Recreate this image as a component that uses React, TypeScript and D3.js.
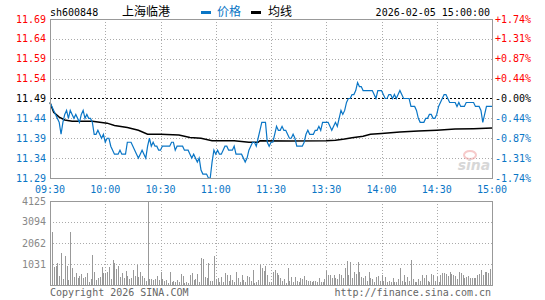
import { useMemo } from 'react';
import * as d3 from 'd3';

const W = 545;
const H = 300;

const stockCode = 'sh600848';
const stockName = '上海临港';
const legendPrice = '价格';
const legendAvg = '均线';
const stamp = '2026-02-05 15:00:00';
const prevClose = 11.49;

const priceTicks = [11.69, 11.64, 11.59, 11.54, 11.49, 11.44, 11.39, 11.34, 11.29];
const pctTicks = ['+1.74%', '+1.31%', '+0.87%', '+0.44%', '-0.00%', '-0.44%', '-0.87%', '-1.31%', '-1.74%'];
const timeLabels = ['09:30', '10:00', '10:30', '11:00', '11:30', '13:30', '14:00', '14:30', '15:00'];
const timeIdx = [0, 30, 60, 90, 120, 150, 180, 210, 240];
const volTicks = [4125, 3094, 2062, 1031];

// minute prices 09:30-11:30 then 13:01-15:00
const priceAM = [
  11.48, 11.47, 11.46, 11.45, 11.44, 11.43, 11.40, 11.43, 11.45, 11.46,
  11.44, 11.46, 11.45, 11.44, 11.45, 11.44, 11.43, 11.45, 11.46, 11.44,
  11.45, 11.44, 11.44, 11.43, 11.40, 11.40, 11.41, 11.40, 11.39, 11.40,
  11.38, 11.39, 11.39, 11.37, 11.36, 11.35, 11.35, 11.35, 11.36, 11.35,
  11.35, 11.35, 11.38, 11.38, 11.38, 11.37, 11.36, 11.35, 11.34, 11.35,
  11.36, 11.35, 11.34, 11.37, 11.39, 11.37, 11.38, 11.37, 11.37, 11.36,
  11.36, 11.37, 11.37, 11.37, 11.37, 11.37, 11.38, 11.38, 11.36, 11.37,
  11.37, 11.37, 11.37, 11.36, 11.36, 11.36, 11.35, 11.34, 11.35, 11.34,
  11.33, 11.34, 11.31, 11.30, 11.30, 11.30, 11.29, 11.29, 11.33, 11.36,
  11.35, 11.36, 11.35, 11.35, 11.36, 11.37, 11.37, 11.36, 11.36, 11.36,
  11.37, 11.35, 11.35, 11.35, 11.35, 11.34, 11.33, 11.34, 11.36, 11.37,
  11.38, 11.38, 11.37, 11.39, 11.41, 11.43, 11.43, 11.43, 11.38, 11.37,
  11.38,
];
const pricePM = [
  11.38, 11.40, 11.42, 11.41, 11.41, 11.42, 11.41, 11.41, 11.40, 11.39,
  11.39, 11.40, 11.39, 11.37, 11.37, 11.37, 11.37, 11.38, 11.40, 11.41,
  11.40, 11.40, 11.40, 11.41, 11.41, 11.42, 11.41, 11.43, 11.43, 11.43,
  11.43, 11.42, 11.41, 11.42, 11.43, 11.42, 11.44, 11.46, 11.45, 11.46,
  11.48, 11.49, 11.49, 11.50, 11.50, 11.51, 11.53, 11.52, 11.52, 11.51,
  11.51, 11.51, 11.51, 11.51, 11.51, 11.50, 11.49, 11.51, 11.51, 11.51,
  11.50, 11.49, 11.49, 11.50, 11.50, 11.49, 11.50, 11.49, 11.50, 11.51,
  11.50, 11.49, 11.49, 11.49, 11.49, 11.47, 11.47, 11.47, 11.46, 11.44,
  11.43, 11.43, 11.43, 11.44, 11.44, 11.45, 11.45, 11.44, 11.44, 11.45,
  11.47, 11.48, 11.49, 11.50, 11.50, 11.49, 11.48, 11.48, 11.48, 11.48,
  11.47, 11.48, 11.47, 11.47, 11.47, 11.48, 11.48, 11.48, 11.48, 11.48,
  11.47, 11.47, 11.47, 11.46, 11.43, 11.45, 11.47, 11.47, 11.47, 11.47,
];

const avgIdx = [0, 2, 5, 8, 12, 23, 31, 35, 42, 48, 53, 60, 70, 76, 82, 88, 100, 108, 113, 114, 130, 150, 155, 160, 164, 170, 174, 180, 190, 200, 210, 220, 230, 240];
const avgVal = [11.48, 11.455, 11.443, 11.436, 11.433, 11.433, 11.428, 11.422, 11.417, 11.41, 11.40, 11.40, 11.398, 11.392, 11.39, 11.384, 11.384, 11.38, 11.38, 11.384, 11.383, 11.384, 11.385, 11.388, 11.391, 11.395, 11.40, 11.402, 11.406, 11.408, 11.41, 11.413, 11.414, 11.416];

const volAM = [
  490, 2620, 900, 950, 1080, 440, 1570, 300, 1420, 930,
  250, 2620, 830, 410, 590, 360, 425, 540, 360, 410,
  590, 130, 295, 1470, 620, 250, 360, 410, 880, 590,
  590, 650, 880, 295, 1230, 1060, 785, 915, 390, 590,
  330, 690, 460, 295, 330, 720, 440, 980, 410, 620,
  460, 330, 200, 4125, 295, 295, 260, 295, 425, 230,
  650, 295, 215, 260, 100, 650, 165, 215, 165, 260,
  130, 540, 440, 100, 130, 115, 490, 590, 250, 295,
  540, 165, 1340, 1280, 410, 330, 1080, 200, 200, 1420,
  295, 330, 130, 410, 130, 590, 490, 200, 490, 260,
  130, 620, 330, 130, 490, 250, 130, 440, 410, 200,
  740, 85, 130, 230, 980, 850, 690, 950, 490, 165,
  130,
];
const volPM = [
  655, 737, 573, 491, 327, 196, 295, 115, 818, 196,
  409, 164, 409, 196, 164, 327, 295, 442, 245, 196,
  196, 131, 196, 196, 131, 360, 131, 164, 295, 688,
  491, 491, 327, 491, 327, 295, 524, 491, 360, 818,
  1179, 491, 1113, 327, 655, 524, 1113, 655, 409, 360,
  458, 196, 622, 327, 295, 131, 409, 458, 196, 491,
  196, 409, 131, 196, 164, 327, 131, 164, 278, 818,
  196, 491, 131, 409, 196, 1228, 295, 164, 131, 295,
  196, 491, 360, 491, 196, 131, 524, 491, 196, 409,
  131, 491, 573, 573, 524, 458, 622, 524, 491, 458,
  295, 622, 573, 491, 360, 409, 458, 360, 327, 327,
  360, 491, 524, 737, 491, 655, 622, 573, 786, 524,
];

const RED = '#ff0000';
const BLUE = '#0a76c6';
const GRAY = '#999999';
const GRID = '#aaaaaa';
const MONO = '"DejaVu Sans Mono", "Liberation Mono", monospace';
const CJK = '"Noto Sans CJK SC", sans-serif';

export default function App() {
  const prices = useMemo(() => [...priceAM, ...pricePM], []);
  const vols = useMemo(() => [...volAM, ...volPM], []);

  const x = d3.scaleLinear().domain([0, 240]).range([50, 492]);
  const y = d3.scaleLinear().domain([11.29, 11.69]).range([178, 19]);
  const yv = d3.scaleLinear().domain([0, 4125]).range([285, 201]);

  const priceLine = d3.line<number>().x((_, i) => x(i)).y(d => y(d))(prices) || '';
  const avgLine = d3.line<number>().x((_, i) => x(avgIdx[i])).y(d => y(d))(avgVal) || '';

  const tickColor = (v: number) => (v > prevClose + 1e-6 ? RED : v < prevClose - 1e-6 ? BLUE : '#000');

  return (
    <svg width={W} height={H} style={{ position: 'absolute', left: 0, top: 0, background: '#fff' }}>
      {/* header */}
      <text x={50} y={16} fontFamily={MONO} fontSize={10} fill="#000">{stockCode}</text>
      <text x={122} y={16} fontFamily={CJK} fontSize={12} fill="#000">{stockName}</text>
      <rect x={201} y={11} width={10} height={3} fill={BLUE} />
      <text x={217} y={16} fontFamily={CJK} fontSize={12} fill={BLUE}>{legendPrice}</text>
      <rect x={251} y={11} width={10} height={3} fill="#000" />
      <text x={268} y={16} fontFamily={CJK} fontSize={12} fill="#000">{legendAvg}</text>
      <text x={490} y={16} fontFamily={MONO} fontSize={10} fill="#000" textAnchor="end">{stamp}</text>

      {/* price grid */}
      {priceTicks.slice(1, -1).map(v => (
        <line key={'h' + v} x1={50} x2={492} y1={Math.round(y(v)) + 0.5} y2={Math.round(y(v)) + 0.5}
          stroke={v === prevClose ? '#000' : GRID} strokeDasharray={v === prevClose ? '2 2' : '1 2'}
          shapeRendering="crispEdges" />
      ))}
      {timeIdx.slice(1, -1).map(i => (
        <g key={'v' + i}>
          <line x1={Math.round(x(i)) + 0.5} x2={Math.round(x(i)) + 0.5} y1={19} y2={178}
            stroke={GRID} strokeDasharray="1 2" shapeRendering="crispEdges" />
          <line x1={Math.round(x(i)) + 0.5} x2={Math.round(x(i)) + 0.5} y1={201} y2={285}
            stroke={GRID} strokeDasharray="1 2" shapeRendering="crispEdges" />
        </g>
      ))}
      {volTicks.slice(1).map(v => (
        <line key={'vh' + v} x1={50} x2={492} y1={Math.round(yv(v)) + 0.5} y2={Math.round(yv(v)) + 0.5}
          stroke={GRID} strokeDasharray="1 2" shapeRendering="crispEdges" />
      ))}

      {/* watermark */}
      <g opacity={0.55}>
        <ellipse cx={470} cy={155} rx={6} ry={4} fill="none" stroke="#f0a0a0" strokeWidth={2} />
        <text x={474} y={170} fontFamily="DejaVu Sans" fontStyle="italic" fontWeight="bold" fontSize={14}
          fill="#b8b8b8" textAnchor="middle">sina</text>
      </g>

      {/* volume bars */}
      {vols.map((v, i) => (
        <rect key={'b' + i} x={Math.round(x(i))} y={yv(v)} width={1} height={285 - yv(v)} fill={GRAY}
          shapeRendering="crispEdges" />
      ))}

      {/* lines */}
      <path d={avgLine} fill="none" stroke="#000" strokeWidth={1.5} />
      <path d={priceLine} fill="none" stroke={BLUE} strokeWidth={1.2} />

      {/* frames */}
      <rect x={50.5} y={19.5} width={442} height={159} fill="none" stroke={GRAY} shapeRendering="crispEdges" />
      <rect x={50.5} y={201.5} width={442} height={84} fill="none" stroke={GRAY} shapeRendering="crispEdges" />

      {/* axis labels */}
      {priceTicks.map((v, k) => (
        <g key={'pl' + k}>
          <text x={46} y={y(v)} dy="0.35em" fontFamily={MONO} fontSize={10} fill={tickColor(v)} textAnchor="end">
            {v.toFixed(2)}
          </text>
          <text x={495} y={y(v)} dy="0.35em" fontFamily={MONO} fontSize={10} fill={tickColor(v)}>
            {pctTicks[k]}
          </text>
        </g>
      ))}
      {timeLabels.map((t, k) => (
        <text key={'t' + t} x={x(timeIdx[k])} y={193} fontFamily={MONO} fontSize={10} fill={BLUE} textAnchor="middle">
          {t}
        </text>
      ))}
      {volTicks.map(v => (
        <text key={'vl' + v} x={46} y={yv(v)} dy="0.35em" fontFamily={MONO} fontSize={10} fill="#888" textAnchor="end">
          {v}
        </text>
      ))}
      <text x={50} y={296} fontFamily={MONO} fontSize={10} fill="#666">Copyright 2026 SINA.COM</text>
      <text x={491} y={296} fontFamily={MONO} fontSize={10} fill="#666" textAnchor="end">http://finance.sina.com.cn</text>
    </svg>
  );
}
